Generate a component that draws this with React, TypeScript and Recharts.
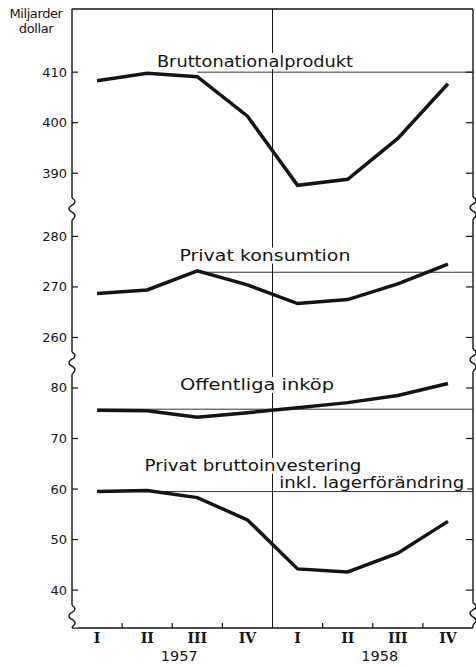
import React from "react";
import {
  LineChart,
  Line,
  XAxis,
  YAxis,
  ReferenceLine,
  ReferenceDot,
} from "recharts";

// Kvartal och år
const quarters = ["I", "II", "III", "IV", "I", "II", "III", "IV"];
const years = ["1957", "1958"];

// Miljarder dollar
const bnp = [408.3, 409.8, 409.1, 401.3, 387.6, 388.8, 396.9, 407.7];
const konsumtion = [268.7, 269.4, 273.2, 270.4, 266.7, 267.5, 270.6, 274.5];
const offentliga = [75.6, 75.5, 74.2, 75.1, 76.1, 77.1, 78.5, 80.9];
const investering = [59.5, 59.7, 58.3, 53.9, 44.2, 43.6, 47.3, 53.6];

// Skalstreck per avsnitt av den brutna axeln
const ticksBnp = [390, 400, 410];
const ticksKons = [260, 270, 280];
const ticksLow = [40, 50, 60, 70, 80];

// Jämförelsenivåer (tunna linjer)
const refBnp = 410;
const refKons = 272.9;
const refOff = 75.8;
const refInv = 59.5;

// förskjutning av varje avsnitt på den brutna axeln
const OFF_BNP = 267.5;
const OFF_KONS = 170;

const Y_DOMAIN: [number, number] = [32.5, 155];
const X_DOMAIN: [number, number] = [-0.5, 7.5];
const BREAKS_LEFT = [115.4, 84.9, 34.8];
const BREAKS_RIGHT = [115.6, 85.5, 35.3];

const INK = "#141414";
const FONT = "'DejaVu Sans', sans-serif";

const rows = quarters.map((q, i) => ({
  x: i,
  q,
  bnp: bnp[i] - OFF_BNP,
  kons: konsumtion[i] - OFF_KONS,
  off: offentliga[i],
  inv: investering[i],
}));

const tickLabel = new Map<number, string>();
ticksBnp.forEach((v) => tickLabel.set(v - OFF_BNP, String(v)));
ticksKons.forEach((v) => tickLabel.set(v - OFF_KONS, String(v)));
ticksLow.forEach((v) => tickLabel.set(v, String(v)));
const valueTicks = Array.from(tickLabel.keys());

const xTicks = [0, 0.5, 1, 1.5, 2, 2.5, 3, 4, 4.5, 5, 5.5, 6, 6.5, 7];

// etiketter i diagrammet
const labels = [
  { text: "Bruttonationalprodukt", x: 3.15, y: 144.7, w: 196 },
  { text: "Privat konsumtion", x: 3.35, y: 106.2, w: 171 },
  { text: "Offentliga inköp", x: 3.19, y: 80.6, w: 154 },
  { text: "Privat bruttoinvestering", x: 3.11, y: 64.6, w: 217 },
  { text: "inkl. lagerförändring", x: 5.48, y: 61.2, w: 185 },
];

function Squiggle({ x, y }: { x: number; y: number }) {
  const d = `M ${x} ${y - 11} C ${x + 4} ${y - 9} ${x + 4} ${y - 6} ${x} ${y - 4} C ${x - 4} ${y - 2} ${x - 4} ${y + 1} ${x} ${y + 3} C ${x + 4} ${y + 5} ${x + 4} ${y + 8} ${x} ${y + 11}`;
  return (
    <g>
      <rect x={x - 6} y={y - 11} width={12} height={22} fill="#fff" />
      <path d={d} fill="none" stroke={INK} strokeWidth={1.4} />
    </g>
  );
}

const LeftTick = (p: any) => {
  const { x, y, payload } = p;
  const v = payload.value;
  if (BREAKS_LEFT.includes(v)) return <Squiggle x={x} y={y} />;
  return (
    <g>
      <line x1={x} x2={x + 6} y1={y} y2={y} stroke={INK} strokeWidth={1.2} />
      <text x={x - 5} y={y} dy={4.5} textAnchor="end" fontSize={13} fontFamily={FONT} fill={INK}>
        {tickLabel.get(v)}
      </text>
    </g>
  );
};

const rightTickShape = (p: any) => (
  <line x1={p.cx} x2={p.cx - 7} y1={p.cy} y2={p.cy} stroke={INK} strokeWidth={1.2} />
);
const rightBreakShape = (p: any) => <Squiggle x={p.cx} y={p.cy} />;

const BottomTick = (p: any) => {
  const { x, y, payload } = p;
  const v = payload.value;
  if (!Number.isInteger(v)) {
    return <line x1={x} x2={x} y1={y} y2={y - 5} stroke={INK} strokeWidth={1.2} />;
  }
  const year = v === 1 ? years[0] : v === 5 ? years[1] : null;
  return (
    <g>
      <text x={x} y={y + 15} textAnchor="middle" fontSize={14} fontWeight="bold" fontFamily="'DejaVu Serif', serif" fill={INK}>
        {quarters[v]}
      </text>
      {year && (
        <text x={x + 32} y={y + 33} textAnchor="middle" fontSize={14.5} fontFamily={FONT} fill={INK}>
          {year}
        </text>
      )}
    </g>
  );
};

const LabelShape = (text: string, w: number) => (p: any) => {
  const { cx, cy } = p;
  return (
    <g>
      <rect x={cx - w / 2 - 3} y={cy - 8} width={w + 6} height={16} fill="#fff" />
      <text
        x={cx}
        y={cy}
        dy={5.5}
        textAnchor="middle"
        fontSize={16}
        fontFamily={FONT}
        fill={INK}
        textLength={w}
        lengthAdjust="spacingAndGlyphs"
      >
        {text}
      </text>
    </g>
  );
};

export default function App() {
  return (
    <div style={{ position: "absolute", left: 0, top: 0, width: 476, height: 667, background: "#fff" }}>
      <div
        style={{
          position: "absolute",
          left: 1,
          top: 6,
          width: 70,
          textAlign: "center",
          fontFamily: FONT,
          fontSize: 13,
          lineHeight: "15px",
          color: INK,
          letterSpacing: -0.4,
        }}
      >
        Miljarder
        <br />
        dollar
      </div>
      <LineChart width={476} height={667} data={rows} margin={{ top: 9, right: 3, bottom: 0, left: 0 }}>
        <XAxis
          dataKey="x"
          type="number"
          domain={X_DOMAIN}
          ticks={xTicks}
          interval={0}
          height={39}
          tickSize={0}
          tickMargin={0}
          tickLine={false}
          axisLine={{ stroke: INK, strokeWidth: 1.4 }}
          tick={(p: any) => <BottomTick {...p} />}
        />
        <YAxis
          yAxisId="l"
          type="number"
          domain={Y_DOMAIN}
          ticks={[...valueTicks, ...BREAKS_LEFT]}
          interval={0}
          width={72}
          tickSize={0}
          tickMargin={0}
          tickLine={false}
          axisLine={{ stroke: INK, strokeWidth: 1.4 }}
          tick={(p: any) => <LeftTick {...p} />}
        />
        <ReferenceLine yAxisId="l" y={Y_DOMAIN[1]} stroke={INK} strokeWidth={1.4} />
        <ReferenceLine yAxisId="l" x={X_DOMAIN[1]} stroke={INK} strokeWidth={1.4} />
        <ReferenceLine yAxisId="l" x={3.5} stroke={INK} strokeWidth={1} />
        <ReferenceLine yAxisId="l" segment={[{ x: 2, y: refBnp - OFF_BNP }, { x: 7.5, y: refBnp - OFF_BNP }]} stroke="#333" strokeWidth={1} />
        <ReferenceLine yAxisId="l" segment={[{ x: 2, y: refKons - OFF_KONS }, { x: 7.5, y: refKons - OFF_KONS }]} stroke="#333" strokeWidth={1} />
        <ReferenceLine yAxisId="l" segment={[{ x: 0, y: refOff }, { x: 7.5, y: refOff }]} stroke="#333" strokeWidth={1} />
        <ReferenceLine yAxisId="l" segment={[{ x: 0, y: refInv }, { x: 7.5, y: refInv }]} stroke="#333" strokeWidth={1} />
        {valueTicks.map((v) => (
          <ReferenceDot key={`rt${v}`} yAxisId="l" x={X_DOMAIN[1]} y={v} r={1} ifOverflow="visible" shape={rightTickShape} />
        ))}
        {BREAKS_RIGHT.map((v) => (
          <ReferenceDot key={`rb${v}`} yAxisId="l" x={X_DOMAIN[1]} y={v} r={1} ifOverflow="visible" shape={rightBreakShape} />
        ))}
        {labels.map((l) => (
          <ReferenceDot key={l.text} yAxisId="l" x={l.x} y={l.y} r={1} shape={LabelShape(l.text, l.w)} />
        ))}
        <Line yAxisId="l" dataKey="bnp" stroke={INK} strokeWidth={3.5} dot={false} isAnimationActive={false} />
        <Line yAxisId="l" dataKey="kons" stroke={INK} strokeWidth={3.5} dot={false} isAnimationActive={false} />
        <Line yAxisId="l" dataKey="off" stroke={INK} strokeWidth={3.5} dot={false} isAnimationActive={false} />
        <Line yAxisId="l" dataKey="inv" stroke={INK} strokeWidth={3.5} dot={false} isAnimationActive={false} />
      </LineChart>
    </div>
  );
}
